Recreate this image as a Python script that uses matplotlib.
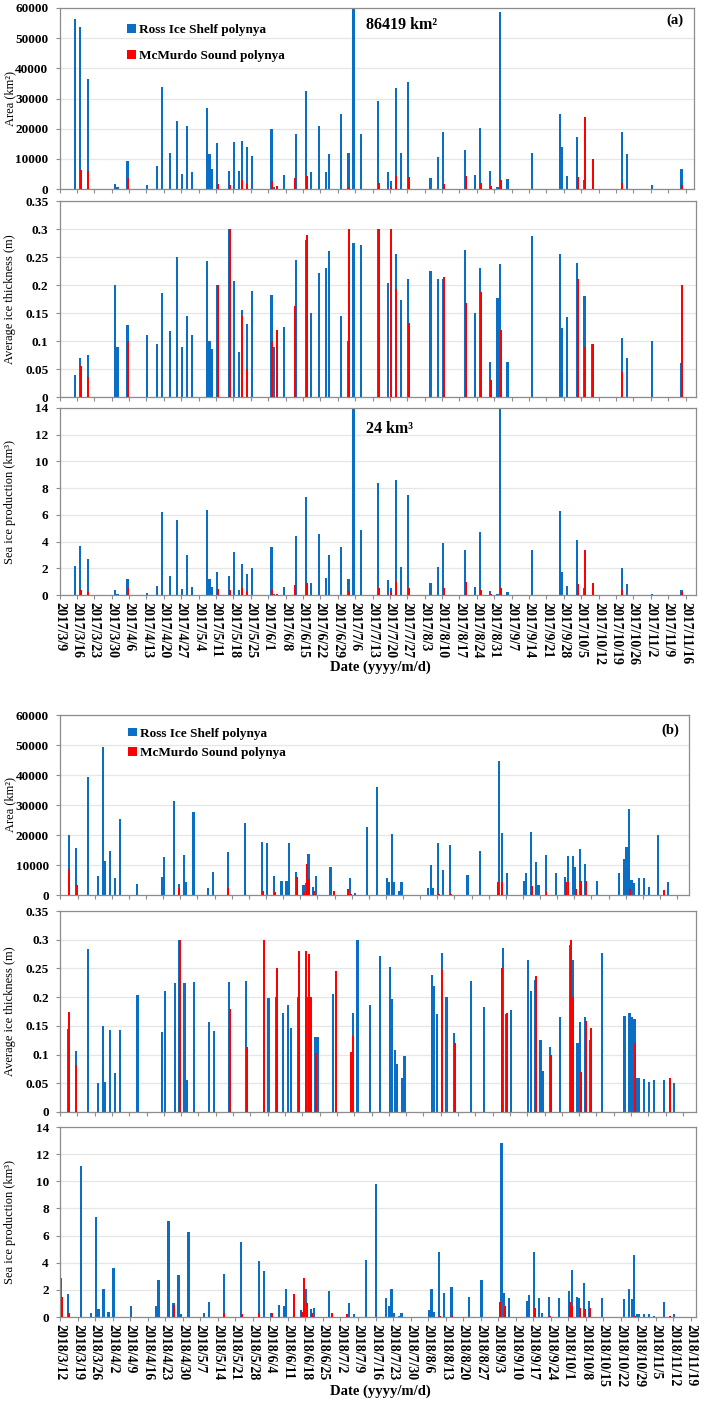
import matplotlib
matplotlib.use("Agg")
import matplotlib.pyplot as plt
from matplotlib.patches import Patch
import numpy as np

plt.rcParams['font.family'] = ['Liberation Serif', 'DejaVu Serif']

BLUE = '#0a6fc4'
RED = '#ff0000'

# ---------------- (a) 2017 : day index counted from 2017/3/9 ----------------
days_2017 = [6, 8, 11, 22, 23, 27, 35, 39, 41, 44, 47, 49, 51, 53, 59, 60, 61, 63, 68, 70,
             72, 73, 75, 77, 85, 86, 87, 90, 94, 95, 99, 101, 104, 107, 108, 113, 116, 118, 121, 128,
             132, 133, 135, 137, 140, 149, 152, 154, 163, 167, 169, 173, 176, 177, 180, 190, 201, 202, 204, 208,
             211, 214, 226, 228, 238, 250]
area_ross_2017 = [56300, 53600, 36300, 1800, 600, 9400, 1200, 7600, 33900, 11800, 22700, 5000, 21000, 5800, 26800, 11500, 6700, 15200, 6100, 15600,
                  5900, 15900, 13800, 10800, 20000, 800, 0, 4500, 0, 18200, 32600, 5800, 20900, 5500, 11500, 24800, 12000, 86419, 18100, 29200,
                  5500, 2800, 33600, 11800, 35500, 3800, 10500, 18900, 12800, 4600, 20200, 5900, 500, 58800, 3200, 11800, 25000, 14000, 4200, 17200,
                  3000, 0, 19000, 11500, 1200, 6500]
area_mcm_2017 = [0, 6200, 5900, 0, 0, 3600, 0, 0, 0, 0, 0, 0, 0, 0, 0, 0, 0, 1800, 1200, 0,
                 0, 3000, 1800, 0, 2700, 0, 1100, 0, 3600, 0, 4400, 0, 0, 0, 0, 0, 600, 0, 0, 2100,
                 0, 800, 4400, 0, 4100, 0, 0, 1800, 4400, 0, 2000, 1000, 0, 2900, 0, 0, 0, 0, 0, 3900,
                 23800, 9800, 2100, 0, 0, 1200]
thick_ross_2017 = [0.04, 0.07, 0.075, 0.2, 0.09, 0.128, 0.11, 0.095, 0.185, 0.117, 0.25, 0.09, 0.144, 0.11, 0.242, 0.1, 0.085, 0.2, 0.3, 0.208,
                   0.081, 0.155, 0.13, 0.19, 0.183, 0.09, 0, 0.125, 0, 0.244, 0.28, 0.15, 0.221, 0.23, 0.26, 0.144, 0.1, 0.275, 0.271, 0.3,
                   0.203, 0.2, 0.255, 0.174, 0.21, 0.225, 0.21, 0.21, 0.262, 0.15, 0.23, 0.062, 0.177, 0.237, 0.062, 0.288, 0.255, 0.123, 0.142, 0.24,
                   0.18, 0.095, 0.105, 0.07, 0.1, 0.06]
thick_mcm_2017 = [0, 0.055, 0.035, 0, 0, 0.1, 0, 0, 0, 0, 0, 0, 0, 0, 0, 0, 0, 0.2, 0.3, 0,
                  0, 0.145, 0.05, 0, 0.1, 0, 0.12, 0, 0.163, 0, 0.289, 0, 0, 0, 0, 0, 0.3, 0, 0, 0.3,
                  0, 0.3, 0.193, 0, 0.132, 0, 0, 0.215, 0.168, 0, 0.187, 0.03, 0, 0.12, 0, 0, 0, 0, 0, 0.211,
                  0.09, 0.095, 0.045, 0, 0, 0.2]
prod_ross_2017 = [2.2, 3.7, 2.7, 0.35, 0.1, 1.2, 0.15, 0.7, 6.2, 1.4, 5.6, 0.45, 3.0, 0.6, 6.4, 1.2, 0.6, 1.7, 1.4, 3.2,
                  0.4, 2.3, 1.6, 2.0, 3.6, 0.1, 0, 0.6, 0, 4.4, 7.3, 0.9, 4.6, 1.3, 3.0, 3.6, 1.2, 24, 4.9, 8.4,
                  1.1, 0.5, 8.6, 2.1, 7.5, 0.9, 2.1, 3.9, 3.4, 0.6, 4.7, 0.3, 0.1, 14.5, 0.2, 3.4, 6.3, 1.7, 0.7, 4.1,
                  0.5, 0, 2.0, 0.8, 0.1, 0.4]
prod_mcm_2017 = [0, 0.4, 0.2, 0, 0, 0.55, 0, 0, 0, 0, 0, 0, 0, 0, 0, 0, 0, 0.45, 0.4, 0,
                 0, 0.5, 0.3, 0, 0.4, 0, 0.1, 0, 0.77, 0, 0.9, 0, 0, 0, 0, 0, 0.3, 0, 0, 0.55,
                 0, 0.3, 1.0, 0, 0.5, 0, 0, 0.5, 1.0, 0, 0.4, 0.1, 0, 0.5, 0, 0, 0, 0, 0, 0.8,
                 3.4, 0.9, 0.4, 0, 0, 0.25]
ticklabels_2017 = ['2017/3/9', '2017/3/16', '2017/3/23', '2017/3/30', '2017/4/6', '2017/4/13', '2017/4/20',
                   '2017/4/27', '2017/5/4', '2017/5/11', '2017/5/18', '2017/5/25', '2017/6/1', '2017/6/8',
                   '2017/6/15', '2017/6/22', '2017/6/29', '2017/7/6', '2017/7/13', '2017/7/20', '2017/7/27',
                   '2017/8/3', '2017/8/10', '2017/8/17', '2017/8/24', '2017/8/31', '2017/9/7', '2017/9/14',
                   '2017/9/21', '2017/9/28', '2017/10/5', '2017/10/12', '2017/10/19', '2017/10/26',
                   '2017/11/2', '2017/11/9', '2017/11/16']

# ---------------- (b) 2018 : day index counted from 2018/3/12 ----------------
days_2018 = [0, 3, 8, 12, 14, 15, 17, 19, 21, 28, 38, 39, 43, 45, 47, 48, 51, 57, 59, 65,
             72, 79, 81, 84, 87, 89, 90, 93, 96, 97, 98, 100, 101, 107, 108, 114, 115, 117, 122, 126,
             130, 131, 132, 133, 135, 136, 147, 148, 149, 151, 153, 156, 163, 168, 175, 176, 177, 179, 186, 187,
             189, 191, 192, 195, 199, 203, 204, 206, 207, 209, 211, 216, 225, 227, 228, 229, 230, 231, 233, 235,
             237, 241, 243, 245]
area_ross_2018 = [20000, 15600, 39200, 6200, 49200, 11500, 14800, 5700, 25300, 3800, 6000, 12800, 31200, 3700, 13500, 4500, 27700, 2400, 7700, 14200,
                  24000, 17700, 17300, 6500, 4800, 4800, 17200, 7800, 3400, 4000, 13800, 2800, 6300, 9400, 0, 0, 5600, 700, 22600, 35900,
                  5600, 4500, 20300, 4500, 1300, 4400, 2400, 9900, 2400, 17400, 8500, 16600, 6600, 14800, 0, 44700, 20700, 7300, 4800, 7400,
                  21000, 11000, 3400, 13200, 7400, 6000, 13000, 13000, 9500, 15200, 10300, 4800, 7400, 12000, 16000, 28700, 5000, 4000, 5600, 5600,
                  2600, 20000, 0, 4200]
area_mcm_2018 = [8800, 3500, 0, 0, 0, 0, 0, 0, 0, 0, 0, 0, 0, 2500, 0, 0, 0, 0, 0, 2300,
                 1800, 1200, 0, 1100, 0, 0, 0, 6100, 1000, 10500, 5400, 1500, 0, 0, 1500, 2000, 300, 0, 0, 0,
                 0, 0, 0, 0, 0, 0, 0, 0, 0, 500, 0, 500, 0, 0, 4400, 0, 4400, 0, 0, 0,
                 3000, 0, 0, 1000, 0, 4300, 4400, 0, 2000, 4600, 4700, 0, 0, 0, 0, 2000, 0, 0, 0, 0,
                 0, 0, 1600, 0]
thick_ross_2018 = [0.145, 0.107, 0.283, 0.05, 0.15, 0.052, 0.143, 0.068, 0.143, 0.204, 0.14, 0.21, 0.225, 0.3, 0.225, 0.056, 0.227, 0.156, 0.141, 0.227,
                   0.228, 0.227, 0.198, 0.2, 0.172, 0.187, 0.146, 0.2, 0.146, 0.2, 0.2, 0.13, 0.13, 0.205, 0, 0, 0.172, 0.3, 0.187, 0.272,
                   0.252, 0.196, 0.108, 0.083, 0.06, 0.097, 0.238, 0.22, 0.17, 0.277, 0.2, 0.137, 0.228, 0.182, 0, 0.285, 0.17, 0.178, 0.265, 0.21,
                   0.23, 0.125, 0.072, 0.113, 0.165, 0.29, 0.265, 0.12, 0.157, 0.165, 0.125, 0.277, 0.168, 0.172, 0.165, 0.162, 0.06, 0.06, 0.057, 0.053,
                   0.055, 0.055, 0, 0.05]
thick_mcm_2018 = [0.175, 0.082, 0, 0, 0, 0, 0, 0, 0, 0, 0, 0, 0, 0.3, 0, 0, 0, 0, 0, 0.18,
                  0.113, 0.3, 0, 0.25, 0, 0, 0, 0.28, 0.28, 0.275, 0.2, 0.102, 0, 0, 0.246, 0.105, 0.133, 0, 0, 0,
                  0, 0, 0, 0, 0, 0, 0, 0, 0, 0.247, 0, 0.12, 0, 0, 0.25, 0, 0.172, 0, 0, 0,
                  0.236, 0, 0, 0.1, 0, 0.3, 0.2, 0, 0.07, 0.158, 0.147, 0, 0, 0, 0, 0.12, 0, 0, 0, 0,
                  0, 0, 0.06, 0]
prod_ross_2018 = [2.9, 1.7, 11.1, 0.3, 7.4, 0.6, 2.1, 0.4, 3.6, 0.8, 0.8, 2.7, 7.1, 1.0, 3.1, 0.2, 6.3, 0.3, 1.1, 3.2,
                  5.5, 4.1, 3.4, 0.3, 0.9, 0.8, 2.1, 1.2, 0.5, 1.7, 2.1, 0.6, 0.7, 1.9, 0, 0, 1.0, 0.2, 4.2, 9.8,
                  1.4, 0.8, 2.1, 0.3, 0.1, 0.3, 0.5, 2.1, 0.4, 4.8, 1.8, 2.2, 1.5, 2.7, 0, 12.8, 1.8, 1.4, 1.2, 1.6,
                  4.8, 1.4, 0.3, 1.5, 1.4, 1.9, 3.5, 1.5, 1.4, 2.5, 1.2, 1.4, 1.3, 2.1, 1.3, 4.6, 0.2, 0.2, 0.2, 0.2,
                  0.1, 1.1, 0, 0.2]
prod_mcm_2018 = [1.5, 0.3, 0, 0, 0, 0, 0, 0, 0, 0, 0, 0, 0, 0.85, 0, 0, 0, 0, 0, 0.3,
                 0.2, 0.3, 0, 0.3, 0, 0, 0, 1.7, 0.4, 2.9, 1.0, 0.3, 0, 0, 0.3, 0.2, 0, 0, 0, 0,
                 0, 0, 0, 0, 0, 0, 0, 0, 0, 0.1, 0, 0.1, 0, 0, 1.1, 0, 0.8, 0, 0, 0,
                 0.7, 0, 0, 0.1, 0, 1.1, 0.8, 0, 0.7, 0.6, 0.7, 0, 0, 0, 0, 0.1, 0, 0, 0, 0,
                 0, 0, 0.1, 0]
ticklabels_2018 = ['2018/3/12', '2018/3/19', '2018/3/26', '2018/4/2', '2018/4/9', '2018/4/16', '2018/4/23',
                   '2018/4/30', '2018/5/7', '2018/5/14', '2018/5/21', '2018/5/28', '2018/6/4', '2018/6/11',
                   '2018/6/18', '2018/6/25', '2018/7/2', '2018/7/9', '2018/7/16', '2018/7/23', '2018/7/30',
                   '2018/8/6', '2018/8/13', '2018/8/20', '2018/8/27', '2018/9/3', '2018/9/10', '2018/9/17',
                   '2018/9/24', '2018/10/1', '2018/10/8', '2018/10/15', '2018/10/22', '2018/10/29',
                   '2018/11/5', '2018/11/12', '2018/11/19']

area_ticks = [0, 10000, 20000, 30000, 40000, 50000, 60000]
thick_ticks = [0, 0.05, 0.1, 0.15, 0.2, 0.25, 0.3, 0.35]
thick_ticklabels = ['0', '0.05', '0.1', '0.15', '0.2', '0.25', '0.3', '0.35']
prod_ticks = [0, 2, 4, 6, 8, 10, 12, 14]

# ---------------- layout ----------------
W, H = 710, 1406
fig = plt.figure(figsize=(W / 100, H / 100), dpi=100)


def rect(l, t, r, b):
    return [l / W, 1 - b / H, (r - l) / W, (b - t) / H]


SPINE = '#8c8c8c'
GRID = '#e6e6e6'


def panel(box, x0, ppd, days, blue, red, ylim, yticks, yticklabels, ylabel,
          xticks, xticklabels=None):
    ax = fig.add_axes(rect(*box))
    l, r = box[0], box[2]
    ax.set_xlim((l - x0) / ppd, (r - x0) / ppd)
    d = np.asarray(days, float)
    ax.bar(d + 0.35, blue, width=0.88, color=BLUE, linewidth=0, zorder=2)
    ax.bar(d + 0.62, red, width=0.8, color=RED, linewidth=0, zorder=3)
    ax.set_ylim(*ylim)
    ax.set_yticks(yticks)
    ax.set_yticklabels(yticklabels, fontsize=9.5, fontweight='bold')
    ax.set_axisbelow(True)
    ax.yaxis.grid(True, color=GRID, linewidth=0.9)
    for s in ax.spines.values():
        s.set_color(SPINE)
        s.set_linewidth(0.9)
    ax.tick_params(axis='both', direction='out', length=3, width=0.8, color=SPINE)
    ax.tick_params(axis='y', pad=5)
    ax.set_xticks(xticks)
    if xticklabels is None:
        ax.set_xticklabels([])
    else:
        ax.set_xticklabels(xticklabels, rotation=270, fontsize=10, fontweight='bold',
                           ha='center', va='top')
        ax.tick_params(axis='x', pad=2)
    ax.set_ylabel(ylabel, fontsize=9)
    ax.yaxis.set_label_coords((16 - l) / (r - l), 0.5)
    return ax


weekly = list(range(0, 253, 7))
weekly_b = list(range(-3, 250, 7))

area_fmt = [str(v) for v in area_ticks]
prod_fmt = [str(v) for v in prod_ticks]

# (a)
axA1 = panel((59.5, 8, 694, 189), 59.3, 2.485, days_2017, area_ross_2017, area_mcm_2017,
             (0, 60000), area_ticks, area_fmt, 'Area (km²)', weekly)
axA2 = panel((59.5, 201, 696, 397), 59.3, 2.485, days_2017, thick_ross_2017, thick_mcm_2017,
             (0, 0.35), thick_ticks, thick_ticklabels, 'Average ice thickness (m)', weekly)
axA3 = panel((59.5, 408, 696, 595), 59.3, 2.485, days_2017, prod_ross_2017, prod_mcm_2017,
             (0, 14), prod_ticks, prod_fmt, 'Sea ice production (km³)', weekly, ticklabels_2017)

# (b)
axB1 = panel((60, 715, 689, 895), 67.8, 2.447, days_2018, area_ross_2018, area_mcm_2018,
             (0, 60000), area_ticks, area_fmt, 'Area (km²)', weekly_b)
axB2 = panel((60, 911, 696, 1112), 67.1, 2.4735, days_2018, thick_ross_2018, thick_mcm_2018,
             (0, 0.35), thick_ticks, thick_ticklabels, 'Average ice thickness (m)', weekly_b)
axB3 = panel((60, 1127, 696, 1317), 60.0, 2.504, days_2018, prod_ross_2018, prod_mcm_2018,
             (0, 14), prod_ticks, prod_fmt, 'Sea ice production (km³)', weekly, ticklabels_2018)

# legends
handles = [Patch(facecolor=BLUE, label='Ross Ice Shelf polynya'),
           Patch(facecolor=RED, label='McMurdo Sound polynya')]
axA1.legend(handles=handles, loc='upper left', bbox_to_anchor=(0.107, 0.91), frameon=False,
            prop={'weight': 'bold', 'size': 9.5}, handlelength=0.65, handleheight=0.65,
            handletextpad=0.25, labelspacing=1.05, borderpad=0, borderaxespad=0)
axB1.legend(handles=handles, loc='upper left', bbox_to_anchor=(0.108, 0.93), frameon=False,
            prop={'weight': 'bold', 'size': 9.5}, handlelength=0.65, handleheight=0.65,
            handletextpad=0.25, labelspacing=0.55, borderpad=0, borderaxespad=0)

# annotations
axA1.text(0.483, 0.905, '86419 km²', transform=axA1.transAxes, fontsize=11.5,
          fontweight='bold', ha='left', va='center')
axA3.text(0.482, 0.89, '24 km³', transform=axA3.transAxes, fontsize=11.5,
          fontweight='bold', ha='left', va='center')
axA1.text(0.97, 0.93, '(a)', transform=axA1.transAxes, fontsize=10.5,
          fontweight='bold', ha='center', va='center')
axB1.text(0.97, 0.915, '(b)', transform=axB1.transAxes, fontsize=10.5,
          fontweight='bold', ha='center', va='center')

fig.text(380 / W, 1 - 667 / H, 'Date (yyyy/m/d)', fontsize=10.5, fontweight='bold',
         ha='center', va='center')
fig.text(380 / W, 1 - 1391 / H, 'Date (yyyy/m/d)', fontsize=10.5, fontweight='bold',
         ha='center', va='center')

fig.savefig('out.png', dpi=100)
